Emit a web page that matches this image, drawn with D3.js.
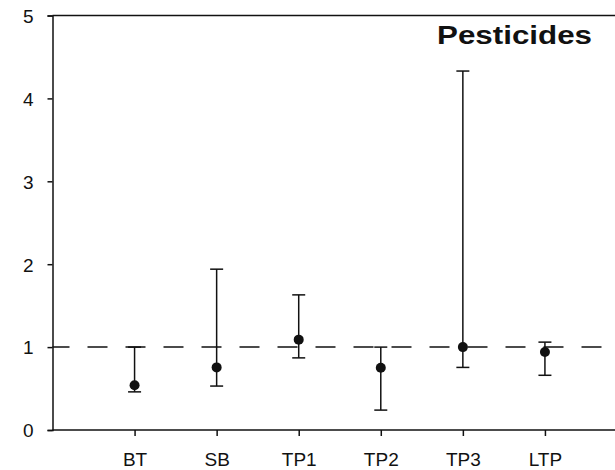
<!DOCTYPE html>
<html>
<head>
<meta charset="utf-8">
<script src="https://cdn.jsdelivr.net/npm/d3@7"></script>
<style>
  html, body { margin: 0; padding: 0; background: #fff; }
  svg { display: block; }
  text { font-family: "Liberation Sans", Arial, sans-serif; fill: #111; }
</style>
</head>
<body>
<svg id="chart" width="615" height="470"></svg>
<script>
// Ratios with lower/upper bounds per treatment
const categories = ["BT", "SB", "TP1", "TP2", "TP3", "LTP"];
const estimate   = [0.54, 0.755, 1.09, 0.75, 1.00, 0.94];
const lower      = [0.46, 0.53, 0.87, 0.24, 0.755, 0.66];
const upper      = [1.00, 1.94, 1.63, 1.00, 4.33, 1.06];
const yTicks     = [0, 1, 2, 3, 4, 5];
const refLevel   = 1;
const title      = "Pesticides";

const svg = d3.select("#chart");
const ink = "#111";

const x = d3.scaleLinear().domain([0, 7]).range([52.5, 627]);
const y = d3.scaleLinear().domain([0, 5]).range([430, 15.5]);

// Top frame line
svg.append("line")
  .attr("x1", x(0)).attr("x2", x(7))
  .attr("y1", y(5)).attr("y2", y(5))
  .attr("stroke", ink).attr("stroke-width", 1.5);

// Left axis
const yAxis = svg.append("g")
  .attr("transform", `translate(${x(0)},0)`)
  .call(d3.axisLeft(y).tickValues(yTicks).tickSize(5).tickPadding(14).tickFormat(d3.format("d")));
yAxis.select(".domain").attr("stroke", ink).attr("stroke-width", 1.5);
yAxis.selectAll(".tick line").attr("stroke", ink).attr("stroke-width", 1.5);
yAxis.selectAll(".tick text")
  .style("font-size", "19px").attr("fill", "#222")
  .attr("dy", "0.36em");

// Bottom axis
const xAxis = svg.append("g")
  .attr("transform", `translate(0,${y(0)})`)
  .call(d3.axisBottom(x).tickValues(categories.map((_, i) => i + 1))
    .tickSize(6).tickPadding(17).tickFormat(i => categories[i - 1]));
xAxis.select(".domain").attr("stroke", ink).attr("stroke-width", 1.5)
  .attr("d", `M${x(0)},0H${x(7)}`);
xAxis.selectAll(".tick line").attr("stroke", ink).attr("stroke-width", 1.5);
xAxis.selectAll(".tick text")
  .style("font-size", "19px").attr("fill", "#222");

// Reference line at ratio 1
svg.append("line")
  .attr("x1", x(0)).attr("x2", x(7))
  .attr("y1", y(refLevel)).attr("y2", y(refLevel))
  .attr("stroke", ink).attr("stroke-width", 1.5)
  .attr("stroke-dasharray", "20,18")
  .attr("stroke-dashoffset", 3);

// Error bars
const capHalf = 6.5;
const bars = svg.append("g").selectAll("g")
  .data(categories.map((c, i) => ({ c, i, est: estimate[i], lo: lower[i], hi: upper[i] })))
  .join("g")
  .attr("stroke", ink).attr("stroke-width", 1.5);

bars.append("line")
  .attr("x1", d => x(d.i + 1)).attr("x2", d => x(d.i + 1))
  .attr("y1", d => y(d.lo)).attr("y2", d => y(d.hi));
bars.append("line")
  .attr("x1", d => x(d.i + 1) - capHalf).attr("x2", d => x(d.i + 1) + capHalf)
  .attr("y1", d => y(d.hi)).attr("y2", d => y(d.hi));
bars.append("line")
  .attr("x1", d => x(d.i + 1) - capHalf).attr("x2", d => x(d.i + 1) + capHalf)
  .attr("y1", d => y(d.lo)).attr("y2", d => y(d.lo));

// Point estimates
svg.append("g").selectAll("circle")
  .data(estimate)
  .join("circle")
  .attr("cx", (d, i) => x(i + 1))
  .attr("cy", d => y(d))
  .attr("r", 5)
  .attr("fill", ink);

// Panel title
svg.append("text")
  .attr("x", 437).attr("y", 43.5)
  .attr("textLength", 155).attr("lengthAdjust", "spacingAndGlyphs")
  .style("font-size", "26px").style("font-weight", "bold")
  .attr("fill", "#000")
  .text(title);
</script>
</body>
</html>
